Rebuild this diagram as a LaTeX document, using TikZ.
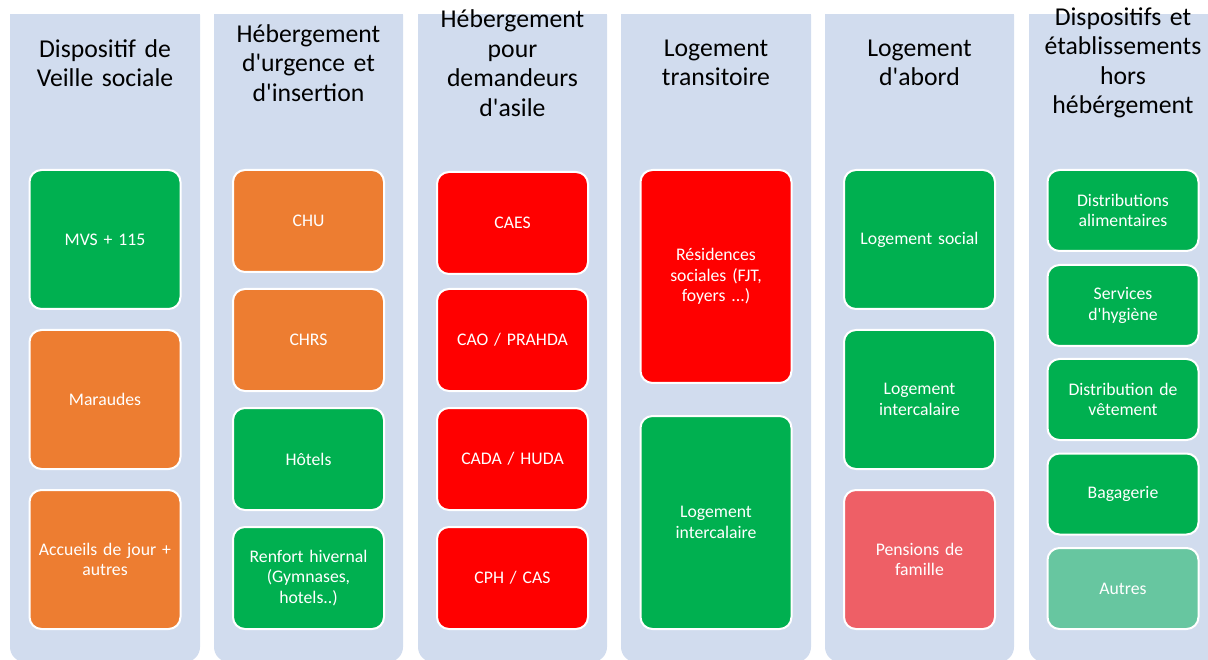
\documentclass[tikz,border=0pt]{standalone}
\usepackage{fontspec}
\setmainfont{Carlito}[Ligatures=TeXOff]
\usepackage{tikz}
\usetikzlibrary{positioning}

\definecolor{bandbg}{HTML}{D1DCEE}
\definecolor{vert}{HTML}{00B050}
\definecolor{orange}{HTML}{ED7D31}
\definecolor{rouge}{HTML}{FF0000}
\definecolor{rose}{HTML}{EE5F66}
\definecolor{vertclair}{HTML}{67C6A0}

\tikzset{
  band/.style={fill=bandbg, rounded corners=15pt},
  head/.style={text width=190pt, align=center, inner sep=0pt, font=\fontsize{25.7}{29.5}\selectfont},
  card/.style={draw=white, line width=2pt, rounded corners=12pt, text=white, minimum width=151pt,
    text width=145pt, align=center, inner sep=0pt, font=\fontsize{17.7}{20.5}\selectfont},
  tall/.style={card, minimum height=139pt},
  mid/.style={card, minimum height=102pt},
  big/.style={card, minimum height=213pt},
  small/.style={card, minimum height=81pt}
}

\begin{document}
\begin{tikzpicture}[x=1pt,y=-1pt]
\useasboundingbox (0,0) rectangle (1208,660);
\begin{scope}
\clip (0,15) rectangle (1208,660);
\fill[band] (10,0) rectangle (200,662);
\fill[band] (214,0) rectangle (403,662);
\fill[band] (418,0) rectangle (607,662);
\fill[band] (621,0) rectangle (811,662);
\fill[band] (825,0) rectangle (1014,662);
\fill[band] (1029,0) rectangle (1220,662);
\end{scope}

% column titles
\node[head] (h1) at (105,63) {Dispositif de\\Veille sociale};
\node[head] (h2) at (308.5,63) {Hébergement\\d'urgence et\\d'insertion};
\node[head] (h3) at (512.5,63) {Hébergement\\pour\\demandeurs\\d'asile};
\node[head] (h4) at (716,63) {Logement\\transitoire};
\node[head] (h5) at (919.5,63) {Logement\\d'abord};
\node[head] (h6) at (1123,63) {Dispositifs et\\établissements\\hors\\hébérgement};

% veille sociale
\node[tall, fill=vert] (mvs) at (105,239.5) {MVS + 115};
\node[tall, fill=orange] (mar) at (105,399.5) {Maraudes};
\node[tall, fill=orange] (acc) at (105,559.5) {Accueils de jour +\\autres};

% urgence et insertion
\node[mid, fill=orange] (chu) at (308.5,221) {CHU};
\node[mid, fill=orange] (chrs) at (308.5,340) {CHRS};
\node[mid, fill=vert] (hot) at (308.5,459) {Hôtels};
\node[mid, fill=vert] (ren) at (308.5,578) {Renfort hivernal\\(Gymnases,\\hotels..)};

% demandeurs d'asile
\node[mid, fill=rouge] (caes) at (512.5,223) {CAES};
\node[mid, fill=rouge] (cao) at (512.5,340) {CAO / PRAHDA};
\node[mid, fill=rouge] (cada) at (512.5,459) {CADA / HUDA};
\node[mid, fill=rouge] (cph) at (512.5,578) {CPH / CAS};

% transitoire
\node[big, fill=rouge] (res) at (716,276.5) {Résidences\\sociales (FJT,\\foyers ...)};
\node[big, fill=vert] (li1) at (716,522.5) {Logement\\intercalaire};

% logement d'abord
\node[tall, fill=vert] (ls) at (919.5,239.5) {Logement social};
\node[tall, fill=vert] (li2) at (919.5,399.5) {Logement\\intercalaire};
\node[tall, fill=rose] (pf) at (919.5,559.5) {Pensions de\\famille};

% hors hebergement
\node[small, fill=vert] (da) at (1123,210.5) {Distributions\\alimentaires};
\node[small, fill=vert] (sh) at (1123,305.5) {Services\\d'hygiène};
\node[small, fill=vert] (dv) at (1123,399.5) {Distribution de\\vêtement};
\node[small, fill=vert] (bag) at (1123,494) {Bagagerie};
\node[small, fill=vertclair] (aut) at (1123,588.5) {Autres};
\end{tikzpicture}
\end{document}
